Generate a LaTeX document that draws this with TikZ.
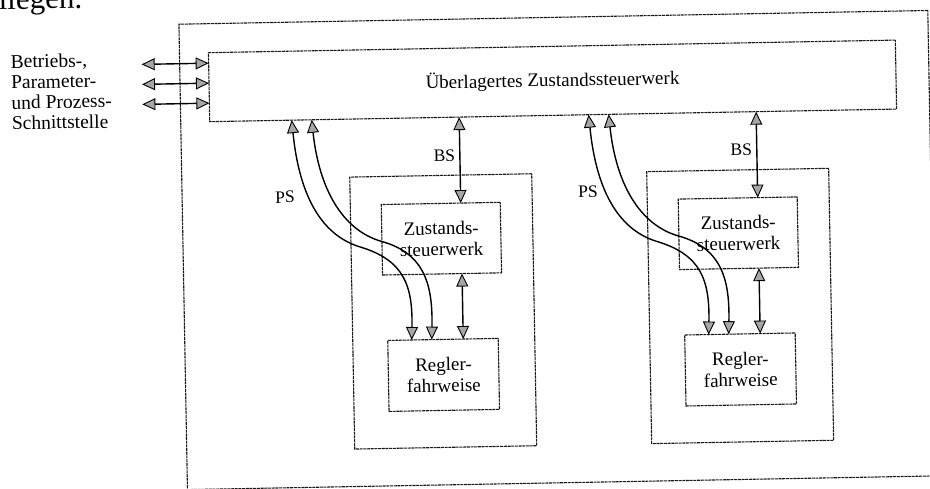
\documentclass[tikz,border=0pt]{standalone}
\usepackage{fontspec}
\setmainfont{Liberation Serif}
\usetikzlibrary{arrows.meta,calc}
\tikzset{
  box/.style={draw=black!90, line width=1.1pt, dash pattern=on 3pt off 0.7pt, outer sep=0pt, inner sep=0pt},
  lbl/.style={font=\fontsize{19}{21}\selectfont, align=center, inner sep=0pt},
  small/.style={font=\fontsize{17.5}{20}\selectfont, inner sep=0pt},
  tipg/.tip={Triangle[length=13pt,width=12pt,fill=gray!70,line width=0.9pt]},
  dbl/.style={draw=black, line width=1.4pt, tipg-tipg},
}
\begin{document}
\begin{tikzpicture}[x=1pt,y=-1pt]
\useasboundingbox (0,0) rectangle (930,488);
\begin{scope}[rotate around={1.05:(465,244)}, transform shape]
  % cut-off running text at the top
  \node[anchor=base west, inner sep=0pt, font=\fontsize{31}{36}\selectfont] (head) at (3,1) {liegen.};
  % outer frame
  \node[box, minimum width=749pt, minimum height=465.5pt] (outer) at (557.5,251.75) {};
  % top box
  \node[box, lbl, minimum width=687pt, minimum height=69pt] (top) at (555.5,82.5) {Überlagertes Zustandssteuerwerk};
  % interface text
  \node[anchor=west, inner sep=0pt, align=left, font=\fontsize{19.5}{20.5}\selectfont] (iface) at (14,84)
    {Betriebs-,\\Parameter-\\und Prozess-\\Schnittstelle};
  % interface arrows
  \foreach \y [count=\k] in {58.5,78.5,98.5} {
    \coordinate (L\k) at (145,\y);
    \draw[dbl] (L\k) -- ($(top.north west)!(L\k)!(top.south west)$);
  }
  % modules
  \foreach \i/\xo/\psx in {1/351/-65,2/648/-59} {
    \begin{scope}[xshift=\xo pt]
      \node[box, minimum width=182pt, minimum height=272pt] (mod\i) at (91,311) {};
      \node[box, lbl, minimum width=119pt, minimum height=70.5pt] (zs\i) at (90.5,238.25) {Zustands-\\steuerwerk};
      \node[box, lbl, minimum width=110.5pt, minimum height=71pt] (rg\i) at (90.25,374.5) {Regler-\\fahrweise};
      \coordinate (bs\i) at (110.5,0);
      \coordinate (pa\i) at (-57,0);
      \coordinate (pb\i) at (-37,0);
      \coordinate (qa\i) at (59,0);
      \coordinate (qb\i) at (79,0);
      \draw[dbl] ($(top.south west)!(bs\i)!(top.south east)$) -- ($(zs\i.north west)!(bs\i)!(zs\i.north east)$);
      \draw[dbl] ($(zs\i.south west)!(bs\i)!(zs\i.south east)$) -- ($(rg\i.north west)!(bs\i)!(rg\i.north east)$);
      \node[small] (bsl\i) at (95,155) {BS};
      \node[small] (psl\i) at (\psx,194) {PS};
      \draw[dbl] ($(top.south west)!(pa\i)!(top.south east)$)
        .. controls (-51,190) and (-31,232) .. (9,245)
        .. controls (53,259) and (61,285) .. ($(rg\i.north west)!(qa\i)!(rg\i.north east)$);
      \draw[dbl] ($(top.south west)!(pb\i)!(top.south east)$)
        .. controls (-31,185) and (-9,228) .. (31,240)
        .. controls (74,253) and (81,285) .. ($(rg\i.north west)!(qb\i)!(rg\i.north east)$);
    \end{scope}
  }
\end{scope}
\end{tikzpicture}
\end{document}
